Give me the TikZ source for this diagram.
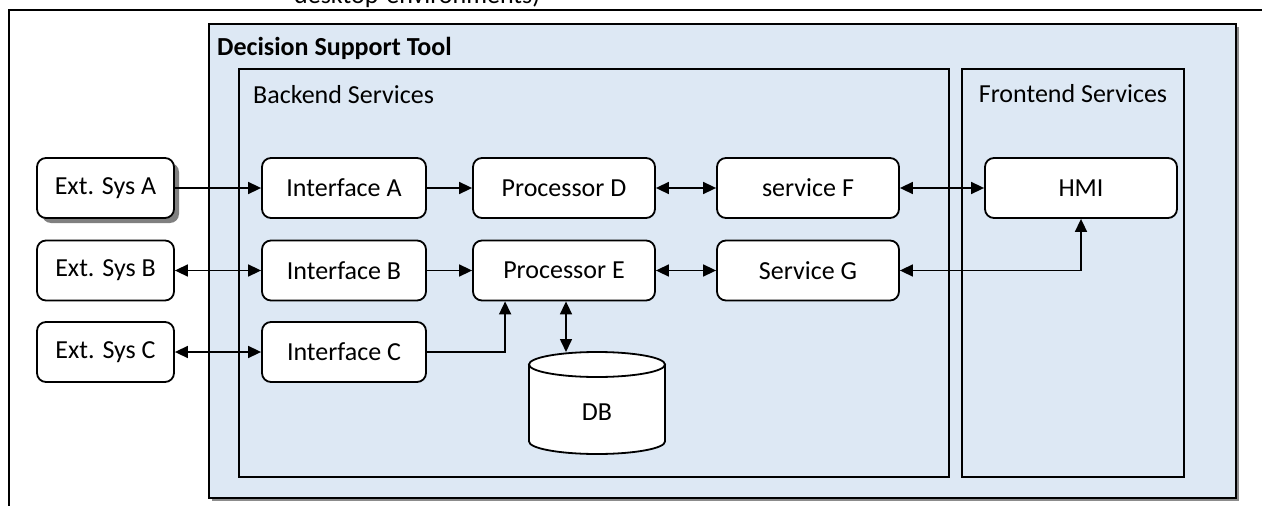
\documentclass[tikz,border=0pt]{standalone}
\usepackage{fontspec}
\setmainfont{Carlito}
\usetikzlibrary{arrows.meta,calc,shadows}
\definecolor{panelblue}{HTML}{DDE8F4}
\begin{document}
\begin{tikzpicture}[x=1pt,y=-1pt,
  >={Triangle[length=13pt,width=12pt]},
  txt/.style={font=\fontsize{26}{30}\selectfont},
  box/.style={txt, draw, line width=1.8pt, rounded corners=9pt, fill=white,
    minimum height=60pt, inner sep=0pt},
  extbox/.style={box, minimum width=137pt},
  ifbox/.style={box, minimum width=164pt},
  svbox/.style={box, minimum width=182pt},
  panel/.style={draw, line width=1.8pt, inner sep=0pt},
  conn/.style={line width=1.6pt, <->},
  conn1/.style={line width=1.6pt, ->},
]
\useasboundingbox (0,0) rectangle (1262,506);

% surrounding frame and the caption running off the top edge
\draw[line width=1.8pt] (9,530) -- (9,10) -- (1290,10);
\node[txt, anchor=base west, inner sep=0pt] (caption) at (294,4) {desktop-environments)};

% containers
\node[panel, fill=panelblue, minimum width=1027pt, minimum height=474pt,
  drop shadow={shadow xshift=2.5pt, shadow yshift=-2.5pt, fill=black!45, opacity=1}]
  (dst) at (722.5,261) {};
\node[txt, font=\fontsize{26}{30}\selectfont\bfseries, anchor=west, inner sep=0pt] (dstlabel) at (217,48) {Decision Support Tool};
\node[panel, minimum width=710pt, minimum height=408pt] (backend) at (594,273) {};
\node[txt, anchor=west, inner sep=0pt] (belabel) at (253,95) {Backend Services};
\node[panel, minimum width=222pt, minimum height=408pt] (frontend) at (1073,273) {};
\node[txt, inner sep=0pt] (felabel) at (1073,94) {Frontend Services};

% external systems
\node[extbox, drop shadow={shadow xshift=5pt, shadow yshift=-5pt, fill=black!50, opacity=1}] (extA) at (105.5,188) {Ext. Sys A};
\node[extbox] (extB) at (105.5,270.5) {Ext. Sys B};
\node[extbox] (extC) at (105.5,352) {Ext. Sys C};

% interfaces
\node[ifbox] (ifA) at (344,188) {Interface A};
\node[ifbox] (ifB) at (344,270.5) {Interface B};
\node[ifbox] (ifC) at (344,352) {Interface C};

% processors and services
\node[svbox] (procD) at (564,188) {Processor D};
\node[svbox] (procE) at (564,270.5) {Processor E};
\node[svbox] (svcF) at (808,188) {service F};
\node[svbox] (svcG) at (808,270.5) {Service G};
\node[box, minimum width=192pt] (hmi) at (1081,188) {HMI};

% database cylinder
\node[txt, minimum width=136pt, minimum height=102pt, inner sep=0pt] (db) at (597,403) {};
\fill[white, draw=black, line width=1.8pt]
  (529,364.5) -- (529,441.5) arc[start angle=180, end angle=0, x radius=68, y radius=12.5]
  -- (665,364.5) -- cycle;
\draw[fill=white, line width=1.8pt] (597,364.5) ellipse[x radius=68, y radius=12.5];
\node[txt] (dbtext) at (597,412) {DB};
\coordinate (dbtop) at (566,352);

% connectors
\draw[conn1] (extA.east) -- (ifA.west);
\draw[conn] (extB.east) -- (ifB.west);
\draw[conn] (extC.east) -- (ifC.west);
\draw[conn1] (ifA.east) -- (procD.west);
\draw[conn1] (ifB.east) -- (procE.west);
\coordinate (peIn) at ($(procE.south west)+(33,0)$);
\draw[conn1] (ifC.east) -| (peIn);
\draw[conn] (procE.south -| dbtop) -- (dbtop);
\draw[conn] (procD.east) -- (svcF.west);
\draw[conn] (procE.east) -- (svcG.west);
\draw[conn] (svcF.east) -- (hmi.west);
\draw[conn] (svcG.east) -| (hmi.south);
\end{tikzpicture}
\end{document}
